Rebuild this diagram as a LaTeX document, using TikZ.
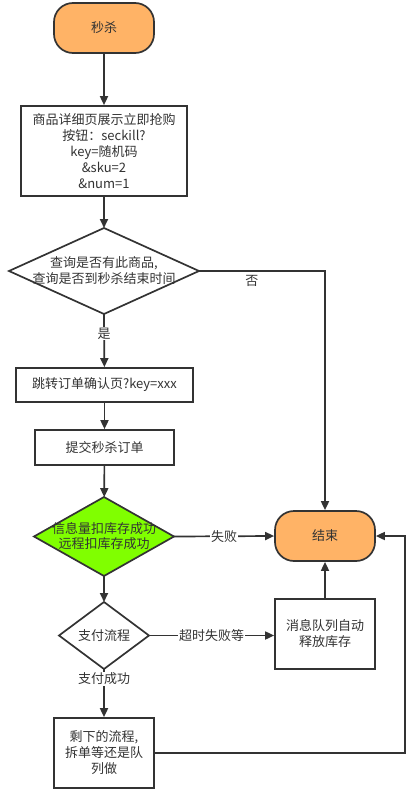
\documentclass[tikz,border=0pt]{standalone}
\usepackage{fontspec}
\setmainfont{Noto Sans CJK SC}
\usetikzlibrary{arrows.meta,shapes.geometric}
\definecolor{ln}{HTML}{333333}
\definecolor{orng}{HTML}{FFB366}
\definecolor{grn}{HTML}{80FF00}
\tikzset{
  every node/.style={font=\fontsize{13}{16}\selectfont, text=ln, align=center},
  box/.style={draw=ln, line width=1.7pt, fill=white, inner sep=0pt},
  term/.style={draw=ln, line width=1.7pt, fill=orng, rounded corners=19pt, minimum width=100pt, minimum height=50pt, inner sep=0pt},
  dia/.style={draw=ln, line width=1.7pt, shape=diamond, inner sep=0pt, outer sep=0pt},
  arr/.style={draw=ln, line width=1.7pt, -{Triangle[length=9pt,width=8pt]}},
  lbl/.style={fill=white, inner sep=1pt},
}
\begin{document}
\begin{tikzpicture}[x=1pt,y=-1pt]
\useasboundingbox (0,0) rectangle (414,795);
\node[term] (start) at (104,28) {秒杀};
\node[box, minimum width=166pt, minimum height=90pt] (b1) at (104,151) {商品详细页展示立即抢购\\按钮：seckill?\\key=随机码\\\&sku=2\\\&num=1};
\node[dia, minimum width=190pt, minimum height=86pt] (d1) at (104,271) {};
\node at (d1) {查询是否有此商品,\\查询是否到秒杀结束时间};
\node[box, minimum width=177pt, minimum height=34pt] (b2) at (104.5,385) {跳转订单确认页?key=xxx};
\node[box, minimum width=139pt, minimum height=35pt] (b3) at (104.5,447.5) {提交秒杀订单};
\node[dia, fill=grn, minimum width=140pt, minimum height=79pt] (d2) at (104,536.5) {};
\node[font=\fontsize{13}{15}\selectfont] at (d2) {信息量扣库存成功\\远程扣库存成功};
\node[term] (end) at (325,536) {结束};
\node[dia, fill=white, minimum width=90pt, minimum height=67pt] (d3) at (104,635.5) {};
\node at (d3) {支付流程};
\node[box, minimum width=100pt, minimum height=70pt] (b4) at (325,634) {消息队列自动\\释放库存};
\node[box, minimum width=100pt, minimum height=70pt] (b5) at (104,753) {剩下的流程,\\拆单等还是队\\列做};
\coordinate (rt) at (405,753);

\draw[arr] (start) -- (b1);
\draw[arr] (b1) -- (d1);
\draw[arr] (d1.east) -| (end.north) node[pos=0.21, below=3pt, inner sep=0pt] {否};
\draw[arr] (d1.south) -- (b2) node[pos=0.37, lbl] {是};
\draw[arr] (b2) -- (b3);
\draw[arr] (b3) -- (d2);
\draw[arr] (d2.east) -- (end.west) node[midway, lbl] {失败};
\draw[arr] (d2.south) -- (d3.north);
\draw[arr] (d3.east) -- (d3.east -| b4.west) node[midway, lbl] {超时失败等};
\draw[arr] (b4) -- (end);
\draw[arr] (d3.south) -- (b5.north) node[pos=0.2, lbl] {支付成功};
\draw[arr] (b5.east) -- (rt) |- (end.east);
\end{tikzpicture}
\end{document}
